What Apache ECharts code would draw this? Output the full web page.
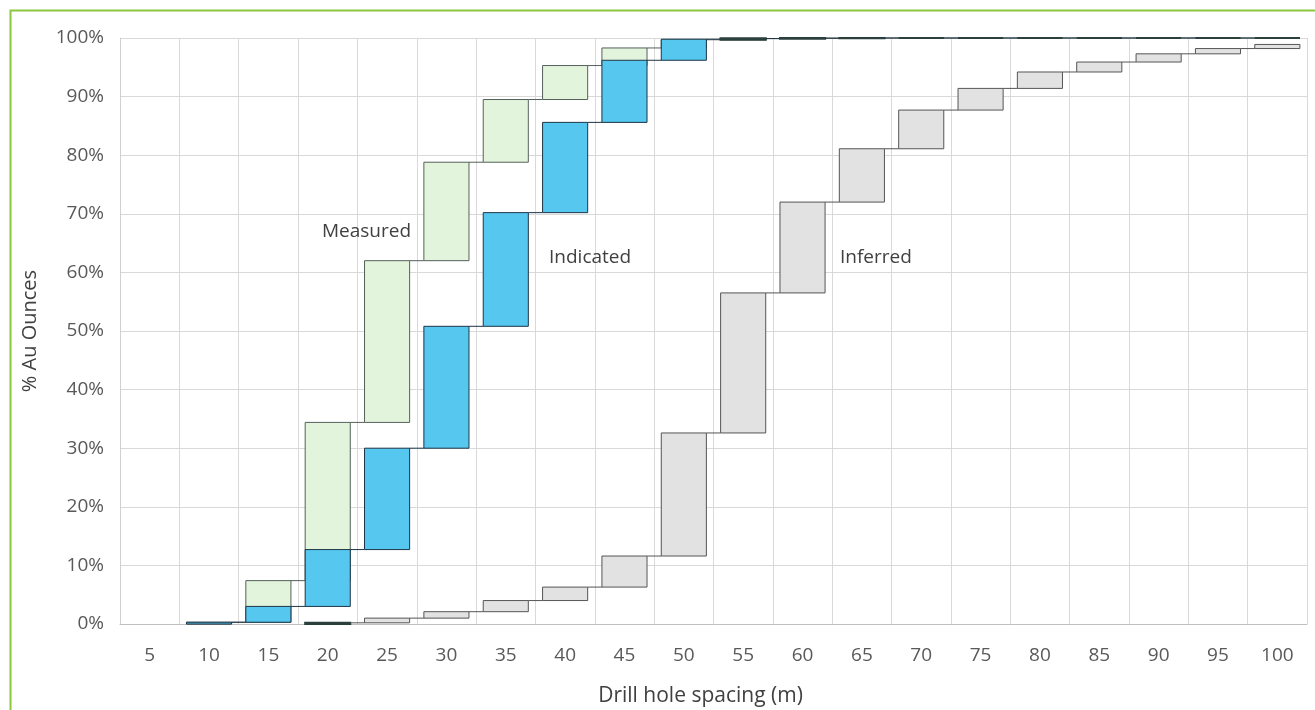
<!DOCTYPE html>
<html>
<head>
<meta charset="utf-8">
<script src="https://cdn.jsdelivr.net/npm/echarts@6/dist/echarts.min.js"></script>
<style>
html,body{margin:0;padding:0;background:#fff;overflow:hidden;}
#chart{width:1315px;height:710px;}
</style>
</head>
<body>
<div id="chart"></div>
<script>
const categories = ['5','10','15','20','25','30','35','40','45','50','55','60','65','70','75','80','85','90','95','100'];
const measured  = [0, 0.3, 7.4, 34.4, 62.0, 78.8, 89.5, 95.3, 98.3, 99.7, 99.9, 100, 100, 100, 100, 100, 100, 100, 100, 100];
const indicated = [0, 0.3, 3.0, 12.7, 30.0, 50.8, 70.2, 85.6, 96.2, 99.8, 99.9, 99.95, 100, 100, 100, 100, 100, 100, 100, 100];
const inferred  = [0, 0, 0, 0.2, 1.0, 2.1, 4.0, 6.3, 11.6, 32.6, 56.5, 72.0, 81.1, 87.7, 91.4, 94.2, 95.9, 97.3, 98.2, 98.9];
const seriesNames = ['Measured', 'Indicated', 'Inferred'];

const FONT = '"Open Sans", "Noto Sans", sans-serif';

function toItems(arr) {
  return arr.map((v, i) => [i, i > 0 ? arr[i - 1] : 0, v]);
}

function makeRender(fill, stroke, n) {
  return function (params, api) {
    const i = api.value(0);
    const s = api.value(1);
    const e = api.value(2);
    if (s === 0 && e === 0) return null;
    const band = api.size([1, 0])[0];
    const w = band * 0.76;
    const pS = api.coord([i, s]);
    const pE = api.coord([i, e]);
    const h = pS[1] - pE[1];
    const children = [{
      type: 'rect',
      shape: { x: pS[0] - w / 2, y: pE[1], width: w, height: h },
      style: { fill: fill, stroke: h < 1.5 ? '#2b3f3c' : stroke, lineWidth: h < 1.5 ? 2 : 1 }
    }];
    if (i < n - 1) {
      const pN = api.coord([i + 1, e]);
      children.push({
        type: 'line',
        shape: { x1: pE[0] + w / 2, y1: pE[1], x2: pN[0] - w / 2, y2: pN[1] },
        style: { stroke: stroke, lineWidth: 1 }
      });
    }
    return { type: 'group', children: children };
  };
}

const chart = echarts.init(document.getElementById('chart'), null, { renderer: 'canvas' });
chart.setOption({
  backgroundColor: '#ffffff',
  animation: false,
  grid: { left: 120, right: 8, top: 38, bottom: 86, containLabel: false, outerBoundsMode: 'none' },
  xAxis: {
    type: 'category',
    data: categories,
    boundaryGap: true,
    name: 'Drill hole spacing (m)',
    nameLocation: 'middle',
    nameGap: 62,
    nameTextStyle: { fontFamily: FONT, fontSize: 21, color: '#404040', padding: [0, 26, 0, 0] },
    axisLine: { show: true, lineStyle: { color: '#bfbfbf', width: 1 } },
    axisTick: { show: false },
    axisLabel: { fontFamily: FONT, fontSize: 19, color: '#595959', margin: 22 },
    splitLine: { show: true, lineStyle: { color: '#d9d9d9', width: 1 } }
  },
  yAxis: {
    type: 'value',
    min: 0,
    max: 100,
    interval: 10,
    name: '% Au Ounces',
    nameLocation: 'middle',
    nameGap: 80,
    nameRotate: 90,
    nameTextStyle: { fontFamily: FONT, fontSize: 20, color: '#404040' },
    axisLine: { show: true, lineStyle: { color: '#d0d0d0', width: 1 } },
    axisTick: { show: false },
    axisLabel: { fontFamily: FONT, fontSize: 19, color: '#595959', margin: 16, formatter: '{value}%' },
    splitLine: { show: true, lineStyle: { color: '#d9d9d9', width: 1 } }
  },
  graphic: [
    { type: 'rect', left: 8, top: 8, shape: { width: 1400, height: 800 }, style: { fill: 'none', stroke: '#8cc63e', lineWidth: 2 }, silent: true, z: 100 },
    { type: 'text', left: 322, top: 222, style: { text: 'Measured', fontFamily: FONT, fontSize: 19, fill: '#404040' }, z: 50 },
    { type: 'text', left: 549, top: 248, style: { text: 'Indicated', fontFamily: FONT, fontSize: 19, fill: '#404040' }, z: 50 },
    { type: 'text', left: 840, top: 248, style: { text: 'Inferred', fontFamily: FONT, fontSize: 19, fill: '#404040' }, z: 50 }
  ],
  series: [
    {
      name: seriesNames[0], type: 'custom',
      renderItem: makeRender('#e3f4dc', '#55615a', categories.length),
      encode: { x: 0, y: [1, 2] },
      data: toItems(measured), z: 2
    },
    {
      name: seriesNames[1], type: 'custom',
      renderItem: makeRender('#56c8f0', '#1d3446', categories.length),
      encode: { x: 0, y: [1, 2] },
      data: toItems(indicated), z: 3
    },
    {
      name: seriesNames[2], type: 'custom',
      renderItem: makeRender('#e2e2e2', '#555555', categories.length),
      encode: { x: 0, y: [1, 2] },
      data: toItems(inferred), z: 4
    }
  ]
});
</script>
</body>
</html>
